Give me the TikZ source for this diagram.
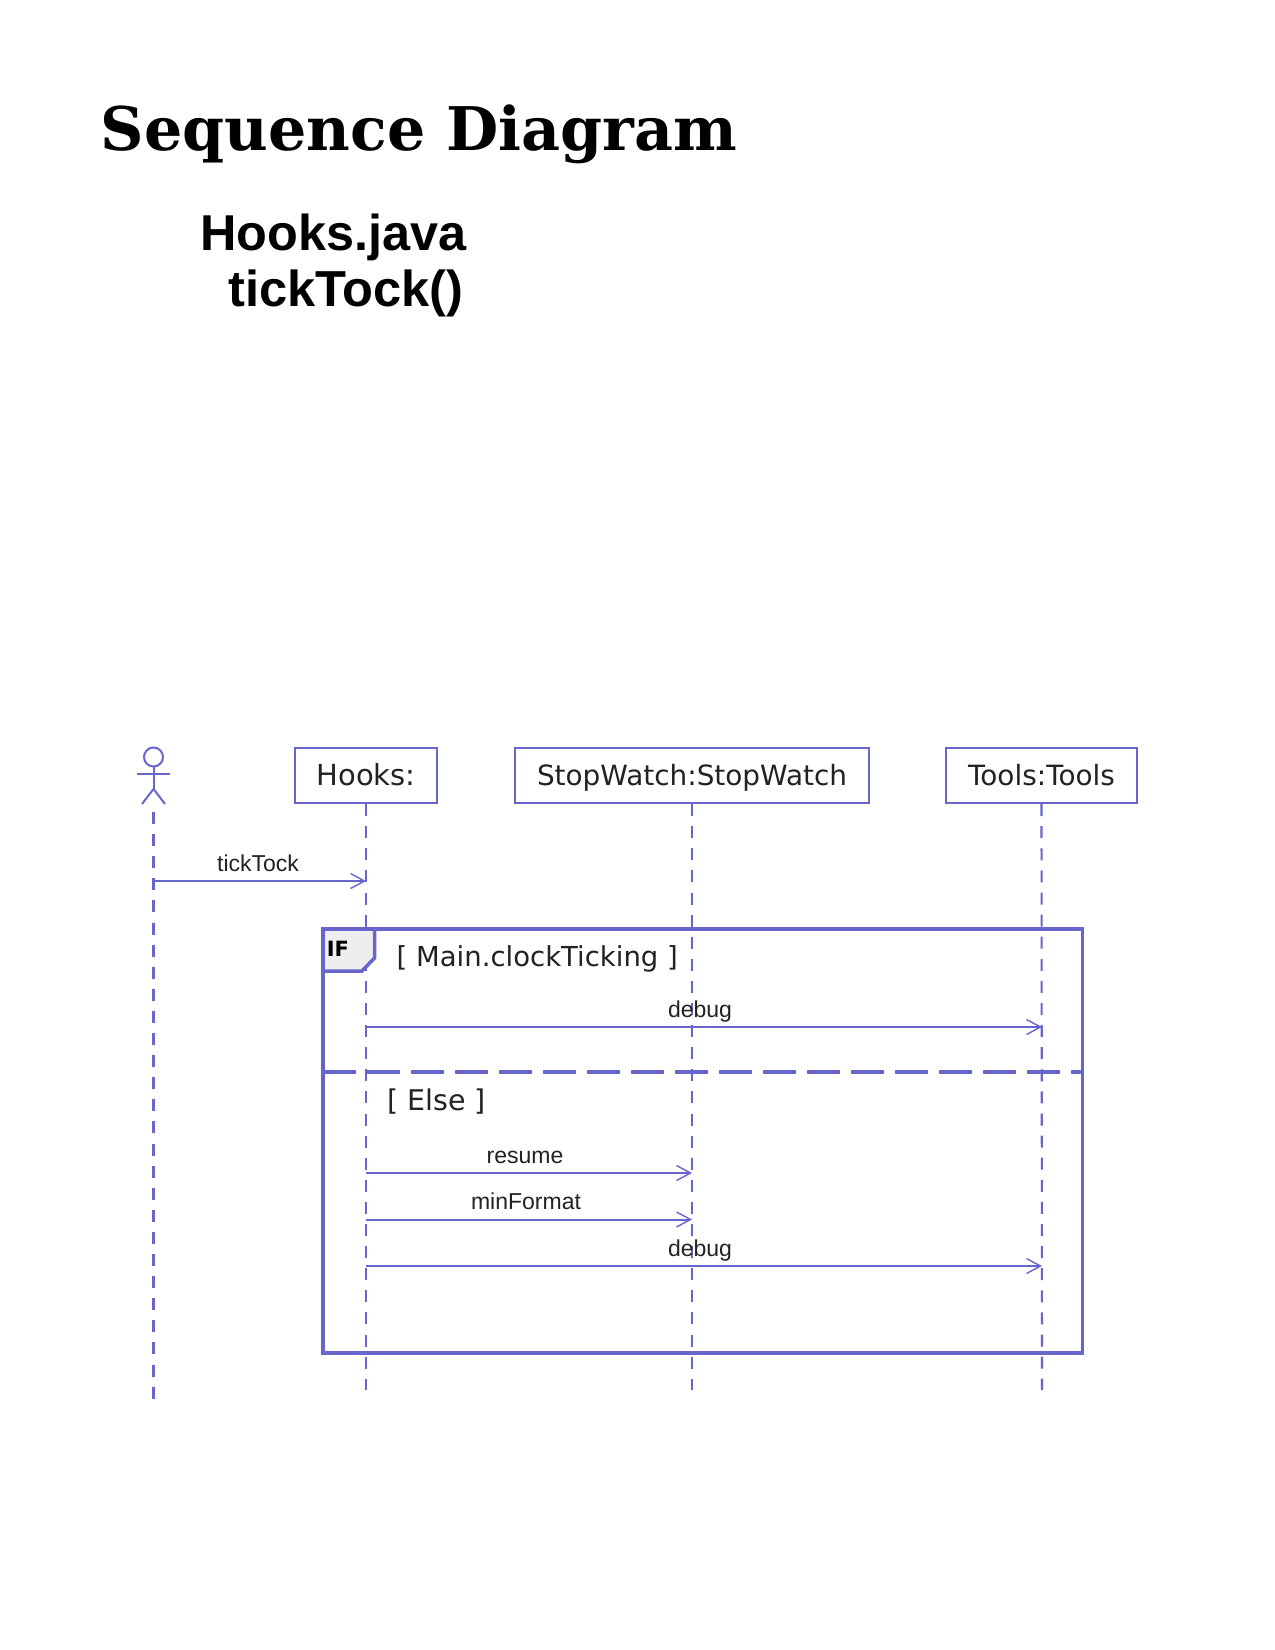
\documentclass[tikz,border=0pt]{standalone}
\usepackage{fontspec}
\setmainfont{Liberation Sans}
\newfontfamily\titlefont{DejaVu Serif}
\newfontfamily\umlfont{DejaVu Sans}
\usetikzlibrary{arrows.meta}
\definecolor{uml}{HTML}{6666CC}
\definecolor{umltext}{HTML}{222222}
\definecolor{tabfill}{HTML}{EEEEEE}
\tikzset{
  x=1pt,y=-1pt,
  lifebox/.style={draw=uml,line width=2.2pt,fill=white,minimum height=55pt,inner sep=0pt,text height=23pt,text depth=4pt,text=umltext,font=\umlfont\fontsize{27.9}{34}\selectfont},
  lifeline/.style={draw=uml,line width=2.1pt,dash pattern=on 12pt off 10.1pt},
  msg/.style={draw=uml,line width=2pt,-{Straight Barb[length=14pt,width=15pt,line width=1.4pt]}},
  msglabel/.style={inner sep=0pt,text=umltext,text height=16pt,text depth=2pt,font=\fontsize{23}{27}\selectfont},
  guard/.style={inner sep=0pt,anchor=base west,text=umltext,font=\umlfont\fontsize{27.5}{34}\selectfont},
  frameline/.style={draw=uml,line width=3.5pt},
  stick/.style={draw=uml,line width=2pt}
}
\begin{document}
\begin{tikzpicture}
\useasboundingbox (0,0) rectangle (1275,1650);
\fill[white] (0,0) rectangle (1275,1650);
% titles
\node[anchor=base west,inner sep=0pt,font=\titlefont\bfseries\fontsize{60.2}{70}\selectfont] (title) at (100.5,150.5) {Sequence Diagram};
\node[anchor=base west,inner sep=0pt,font=\bfseries\fontsize{50.4}{58}\selectfont] (sub1) at (200,250) {Hooks.java};
\node[anchor=base west,inner sep=0pt,font=\bfseries\fontsize{50.6}{58}\selectfont] (sub2) at (228,306) {tickTock()};
% lifeline heads
\node[lifebox,minimum width=142pt,font=\umlfont\fontsize{29}{34}\selectfont] (hooks) at (366,775.5) {Hooks:};
\node[lifebox,minimum width=354pt] (sw) at (692,775.5) {StopWatch:StopWatch};
\node[lifebox,minimum width=191pt] (tools) at (1041.5,775.5) {Tools:Tools};
% actor
\coordinate (actor) at (153.5,774);
\draw[stick] (153.5,757) circle (9.5);
\draw[stick] (137,774) -- (170,774);
\draw[stick] (153.5,766.5) -- (153.5,789);
\draw[stick] (142,804) -- (153.5,789) -- (165,804);
% lifeline ends
\coordinate (actorTop) at (153.5,812);
\coordinate (actorEnd) at (153.5,1399);
\coordinate (hooksEnd) at (366,1390);
\coordinate (swEnd) at (692,1390);
\coordinate (toolsEnd) at (1042,1390);
\draw[lifeline] (actorTop) -- (actorEnd);
\draw[lifeline] (hooks.south) -- (hooksEnd);
\draw[lifeline] (sw.south) -- (swEnd);
\draw[lifeline] (tools.south) -- (toolsEnd);
% tick tock message
\coordinate (m1a) at (153.5,881);
\coordinate (m1b) at (366,881);
\draw[msg] (m1a) -- (m1b);
\node[msglabel] (m1t) at (258,864) {tickTock};
% frame
\draw[frameline] (323,929) rectangle (1082.5,1353);
\draw[frameline,fill=tabfill] (323,929) -- (374.5,929) -- (374.5,958) -- (362,971) -- (323,971) -- cycle;
\node[inner sep=0pt,text=black,font=\umlfont\bfseries\fontsize{21}{25}\selectfont] (iftag) at (338,949) {IF};
\node[guard] (g1) at (396.5,966) {[ Main.clockTicking ]};
\draw[frameline,dash pattern=on 33pt off 11pt,dash phase=0pt] (323,1072) -- (1082.5,1072);
\node[guard,font=\umlfont\fontsize{28.5}{34}\selectfont] (g2) at (387,1110) {[ Else ]};
% messages
\coordinate (m2a) at (366,1027);
\coordinate (m2b) at (1042,1027);
\draw[msg] (m2a) -- (m2b);
\node[msglabel] (m2t) at (700,1010) {debug};
\coordinate (m3a) at (366,1173);
\coordinate (m3b) at (692,1173);
\draw[msg] (m3a) -- (m3b);
\node[msglabel] (m3t) at (525,1156) {resume};
\coordinate (m4a) at (366,1219.5);
\coordinate (m4b) at (692,1219.5);
\draw[msg] (m4a) -- (m4b);
\node[msglabel] (m4t) at (526,1202.5) {minFormat};
\coordinate (m5a) at (366,1266);
\coordinate (m5b) at (1042,1266);
\draw[msg] (m5a) -- (m5b);
\node[msglabel] (m5t) at (700,1249) {debug};
\end{tikzpicture}
\end{document}
